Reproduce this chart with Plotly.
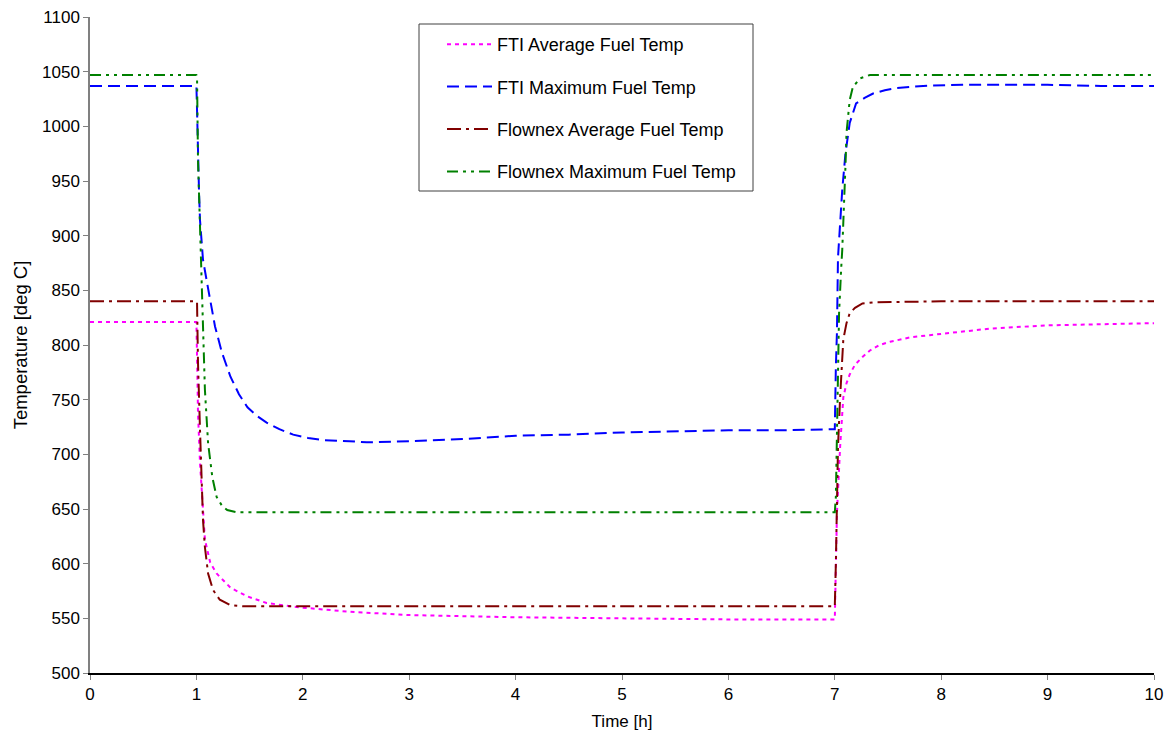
import plotly.graph_objects as go

# Time axis [h] and fuel temperatures [deg C] for each series
fti_avg_t = [0, 1.0, 1.008, 1.015, 1.034, 1.053, 1.08, 1.13, 1.19, 1.32, 1.48, 1.66, 1.97, 2.44,
             3.0, 3.5, 4.0, 5.0, 6.0, 7.0, 7.01, 7.02, 7.05, 7.07, 7.08, 7.11, 7.14, 7.19, 7.26,
             7.33, 7.42, 7.52, 7.71, 7.89, 8.18, 8.46, 9.0, 9.5, 10.0]
fti_avg_v = [821, 821, 780, 738, 692, 661, 622, 601, 591, 578, 570, 564, 560, 556,
             553, 552, 551, 550, 549, 549, 600, 646, 707, 738, 752, 765, 773, 782, 789,
             795, 800, 803, 807, 809, 812, 815, 818, 819, 820]

fti_max_t = [0, 1.0, 1.006, 1.015, 1.025, 1.034, 1.062, 1.10, 1.175, 1.24, 1.32, 1.40, 1.48, 1.57,
             1.66, 1.78, 1.91, 2.05, 2.19, 2.44, 2.6, 3.0, 3.5, 4.0, 4.5, 5.0, 5.5, 6.0, 6.5,
             7.0, 7.01, 7.02, 7.03, 7.05, 7.07, 7.10, 7.14, 7.20, 7.28, 7.36, 7.47, 7.58, 7.83,
             8.2, 8.6, 9.0, 9.5, 10.0]
fti_max_v = [1037, 1037, 1015, 969, 939, 914, 878, 857, 817, 793, 771, 755, 743, 735,
             729, 723, 718, 715, 713, 712, 711, 712, 714, 717, 718, 720, 721, 722, 722,
             723, 780, 811, 880, 915, 942, 975, 1003, 1021, 1026, 1030, 1033, 1035, 1037,
             1038, 1038, 1038, 1037, 1037]

fnx_avg_t = [0, 1.0, 1.006, 1.015, 1.034, 1.053, 1.062, 1.08, 1.11, 1.156, 1.22, 1.32, 1.44,
             2.0, 3.0, 4.0, 5.0, 6.0, 7.0, 7.01, 7.02, 7.03, 7.05, 7.07, 7.08, 7.11, 7.14,
             7.19, 7.26, 7.36, 8.0, 9.0, 10.0]
fnx_avg_v = [840, 840, 839, 784, 722, 677, 640, 615, 591, 576, 567, 562, 561,
             561, 561, 561, 561, 561, 561, 600, 646, 707, 752, 783, 805, 820, 829,
             834, 838, 839, 840, 840, 840]

fnx_max_t = [0, 1.0, 1.006, 1.015, 1.034, 1.053, 1.062, 1.08, 1.11, 1.15, 1.19, 1.24, 1.29, 1.38,
             2.0, 3.0, 4.0, 5.0, 6.0, 7.0, 7.01, 7.02, 7.03, 7.04, 7.06, 7.07, 7.10, 7.11,
             7.14, 7.17, 7.24, 7.33, 8.0, 9.0, 10.0]
fnx_max_v = [1047, 1047, 1045, 969, 908, 848, 800, 759, 710, 679, 661, 653, 649, 647,
             647, 647, 647, 647, 647, 647, 661, 713, 759, 829, 870, 887, 963, 994,
             1024, 1036, 1044, 1047, 1047, 1047, 1047]

series = [
    ("FTI Average Fuel Temp", fti_avg_t, fti_avg_v, "#FF00FF", "4px,4px"),
    ("FTI Maximum Fuel Temp", fti_max_t, fti_max_v, "#0000FF", "12px,6px"),
    ("Flownex Average Fuel Temp", fnx_avg_t, fnx_avg_v, "#800000", "14px,5px,3px,5px"),
    ("Flownex Maximum Fuel Temp", fnx_max_t, fnx_max_v, "#008000", "11px,5px,3px,5px,3px,5px"),
]

FONT = "Liberation Sans, Arial, sans-serif"

fig = go.Figure()
for i, (name, t, v, color, dash) in enumerate(series):
    fig.add_trace(go.Scatter(
        x=t, y=v, mode="lines", name=name, legendgroup=f"g{i}",
        line=dict(color=color, width=2, dash=dash),
    ))

L, R, T, B = 90, 18, 17, 71
W, H = 1172, 744
pw, ph = W - L - R, H - T - B


def px_x(p):
    return (p - L) / pw


def px_y(p):
    return (H - B - p) / ph


fig.update_layout(
    width=W, height=H,
    margin=dict(l=L, r=R, t=T, b=B, autoexpand=False),
    paper_bgcolor="white", plot_bgcolor="white",
    font=dict(family=FONT, size=17, color="black"),
    showlegend=True,
    legend=dict(
        x=px_x(442), y=px_y(26), xanchor="left", yanchor="top",
        bgcolor="rgba(0,0,0,0)", borderwidth=0,
        itemwidth=45, tracegroupgap=16, traceorder="grouped",
        font=dict(family=FONT, size=18, color="black"),
    ),
    shapes=[dict(
        type="rect", xref="paper", yref="paper",
        x0=px_x(419), x1=px_x(753), y0=px_y(191), y1=px_y(24),
        line=dict(color="#404040", width=1), fillcolor="rgba(0,0,0,0)",
    )],
    xaxis=dict(
        range=[0, 10], tick0=0, dtick=1, showgrid=False, zeroline=False,
        showline=True, linecolor="black", linewidth=1.5, automargin=False,
        ticks="outside", ticklen=5, tickcolor="#808080",
        tickfont=dict(family=FONT, size=17),
        title=dict(text="Time [h]", font=dict(family=FONT, size=17), standoff=12),
    ),
    yaxis=dict(
        range=[500, 1100], tick0=500, dtick=50, showgrid=False, zeroline=False,
        showline=True, linecolor="#808080", linewidth=1.5, automargin=False,
        ticks="outside", ticklen=5, tickcolor="#808080",
        tickfont=dict(family=FONT, size=17),
        title=dict(text="Temperature [deg C]", font=dict(family=FONT, size=18.5), standoff=10),
    ),
)

fig.write_html("out.html")
